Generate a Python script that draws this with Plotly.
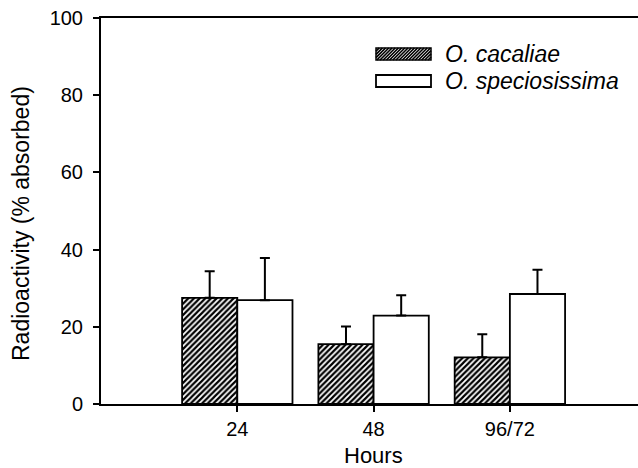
import plotly.graph_objects as go

categories = ["24", "48", "96/72"]
cacaliae = [27.5, 15.5, 12.1]
cacaliae_err = [6.9, 4.6, 6.0]
speciosissima = [26.9, 22.9, 28.5]
speciosissima_err = [10.9, 5.3, 6.3]
series_names = ["O. cacaliae", "O. speciosissima"]
y_ticks = [0, 20, 40, 60, 80, 100]

W, H = 638, 468
ML, MR, MT, MB = 101, 0, 18, 64
PW, PH = W - ML - MR, H - MT - MB

def px_x(p):
    return (p - ML) / PW

def px_y(p):
    return (H - MB - p) / PH

font = "Liberation Sans, Arial, sans-serif"

fig = go.Figure()
fig.add_trace(go.Bar(
    x=categories, y=cacaliae, name=series_names[0], showlegend=False,
    marker=dict(color="white", line=dict(color="black", width=1.8),
                pattern=dict(shape="/", size=4, solidity=0.55,
                             fgcolor="black", bgcolor="white", fillmode="replace")),
    error_y=dict(type="data", array=cacaliae_err, symmetric=False,
                 arrayminus=[0] * len(cacaliae), color="black", thickness=2, width=5),
))
fig.add_trace(go.Bar(
    x=categories, y=speciosissima, name=series_names[1], showlegend=False,
    marker=dict(color="white", line=dict(color="black", width=1.8)),
    error_y=dict(type="data", array=speciosissima_err, symmetric=False,
                 arrayminus=[0] * len(speciosissima), color="black", thickness=2, width=5),
))

# legend (manual, wide swatches)
shapes = []
sx0, sx1 = 376, 431
rows = [(48, 60), (75, 87)]
y0, y1 = rows[0]
shapes.append(dict(type="rect", xref="paper", yref="paper",
                   x0=px_x(sx0), x1=px_x(sx1), y0=px_y(y1), y1=px_y(y0),
                   fillcolor="white", line=dict(color="black", width=1.5)))
path = ""
hgt = y1 - y0
off = sx0 - hgt
step = 3.2
while off < sx1:
    ax, ay = off, y1
    bx, by = off + hgt, y0
    if ax < sx0:
        ay = y1 - (sx0 - ax)
        ax = sx0
    if bx > sx1:
        by = y0 + (bx - sx1)
        bx = sx1
    if bx > ax:
        path += f"M{px_x(ax)},{px_y(ay)} L{px_x(bx)},{px_y(by)} "
    off += step
shapes.append(dict(type="path", xref="paper", yref="paper", path=path,
                   line=dict(color="black", width=1.7)))
y0, y1 = rows[1]
shapes.append(dict(type="rect", xref="paper", yref="paper",
                   x0=px_x(sx0), x1=px_x(sx1), y0=px_y(y1), y1=px_y(y0),
                   fillcolor="white", line=dict(color="black", width=1.8)))

annotations = []
for name, (a, b) in zip(series_names, rows):
    annotations.append(dict(text=f"<i>{name}</i>", xref="paper", yref="paper",
                            x=px_x(443), y=px_y((a + b) / 2), xanchor="left",
                            yanchor="middle", showarrow=False,
                            font=dict(family=font, size=23, color="black")))
annotations.append(dict(text="Hours", xref="x", yref="paper", x=1, y=px_y(455),
                        xanchor="center", yanchor="middle", showarrow=False,
                        font=dict(family=font, size=22, color="black")))
annotations.append(dict(text="Radioactivity (% absorbed)", xref="paper", yref="paper",
                        x=px_x(21), y=px_y(224), xanchor="center", yanchor="middle",
                        textangle=-90, showarrow=False,
                        font=dict(family=font, size=23, color="black")))

fig.update_layout(
    width=W, height=H,
    margin=dict(l=ML, r=MR, t=MT, b=MB),
    paper_bgcolor="white", plot_bgcolor="white",
    barmode="group", bargap=0.19, bargroupgap=0,
    font=dict(family=font, size=20, color="black"),
    shapes=shapes, annotations=annotations,
    xaxis=dict(type="category", range=[-1.0, 2.94], showgrid=False,
               showline=True, linecolor="black", linewidth=2, mirror=True,
               ticks="outside", ticklen=6, tickwidth=1.5, tickcolor="black",
               tickfont=dict(size=20), zeroline=False),
    yaxis=dict(range=[0, 100], tickvals=y_ticks, showgrid=False,
               showline=True, linecolor="black", linewidth=2,
               ticks="outside", ticklen=6, tickwidth=1.5, tickcolor="black",
               ticklabelstandoff=6,
               tickfont=dict(size=20), zeroline=False),
)

fig.write_html("out.html", config={"displayModeBar": False},
               post_script="document.body.style.margin='0';")
